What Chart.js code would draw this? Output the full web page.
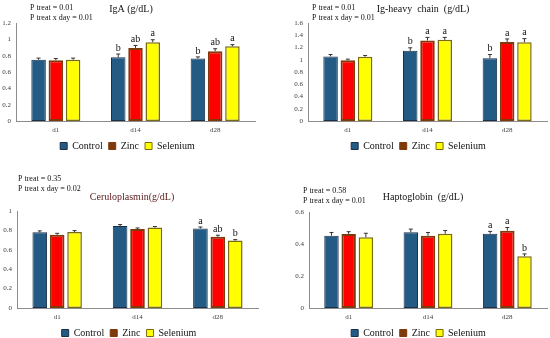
<!DOCTYPE html>
<html><head><meta charset="utf-8">
<script src="https://cdn.jsdelivr.net/npm/chart.js@4.4.1/dist/chart.umd.min.js"></script>
<style>
html,body{margin:0;padding:0;background:#fff;width:550px;height:338px;overflow:hidden;position:relative}
canvas{position:absolute}
</style></head><body>
<canvas id="c1" style="left:0;top:0"></canvas>
<canvas id="c2" style="left:290px;top:0"></canvas>
<canvas id="c3" style="left:0;top:169px"></canvas>
<canvas id="c4" style="left:290px;top:169px"></canvas>
<script>
// ---------- data ----------
const categories = ['d1', 'd14', 'd28'];
const seriesNames = ['Control', 'Zinc', 'Selenium'];

const igaTitle = 'IgA (g/dL)';
const igaPText = ['P treat = 0.01', 'P treat x day = 0.01'];
const igaTicks = [0, 0.2, 0.4, 0.6, 0.8, 1, 1.2];
const igaControl = [0.75, 0.78, 0.765];
const igaZinc = [0.745, 0.895, 0.855];
const igaSelenium = [0.75, 0.965, 0.915];
const igaControlErr = [0.02, 0.04, 0.02];
const igaZincErr = [0.02, 0.03, 0.03];
const igaSeleniumErr = [0.02, 0.03, 0.02];
const igaControlLetters = ['', 'b', 'b'];
const igaZincLetters = ['', 'ab', 'ab'];
const igaSeleniumLetters = ['', 'a', 'a'];

const ighTitle = 'Ig-heavy  chain  (g/dL)';
const ighPText = ['P treat = 0.01', 'P treat x day = 0.01'];
const ighTicks = [0, 0.2, 0.4, 0.6, 0.8, 1, 1.2, 1.4, 1.6];
const ighControl = [1.055, 1.145, 1.025];
const ighZinc = [0.99, 1.315, 1.29];
const ighSelenium = [1.05, 1.325, 1.285];
const ighControlErr = [0.03, 0.05, 0.06];
const ighZincErr = [0.02, 0.05, 0.05];
const ighSeleniumErr = [0.02, 0.04, 0.06];
const ighControlLetters = ['', 'b', 'b'];
const ighZincLetters = ['', 'a', 'a'];
const ighSeleniumLetters = ['', 'a', 'a'];

const cerTitle = 'Ceruloplasmin(g/dL)';
const cerPText = ['P treat = 0.35', 'P treat x day = 0.02'];
const cerTicks = [0, 0.2, 0.4, 0.6, 0.8, 1];
const cerControl = [0.78, 0.845, 0.82];
const cerZinc = [0.755, 0.815, 0.735];
const cerSelenium = [0.783, 0.83, 0.695];
const cerControlErr = [0.015, 0.015, 0.015];
const cerZincErr = [0.015, 0.01, 0.015];
const cerSeleniumErr = [0.015, 0.01, 0.01];
const cerControlLetters = ['', '', 'a'];
const cerZincLetters = ['', '', 'ab'];
const cerSeleniumLetters = ['', '', 'b'];

const hapTitle = 'Haptoglobin  (g/dL)';
const hapPText = ['P treat = 0.58', 'P treat x day = 0.01'];
const hapTicks = [0, 0.2, 0.4, 0.6];
const hapControl = [0.452, 0.473, 0.464];
const hapZinc = [0.462, 0.452, 0.483];
const hapSelenium = [0.442, 0.464, 0.323];
const hapControlErr = [0.02, 0.02, 0.015];
const hapZincErr = [0.015, 0.02, 0.02];
const hapSeleniumErr = [0.025, 0.02, 0.015];
const hapControlLetters = ['', '', 'a'];
const hapZincLetters = ['', '', 'a'];
const hapSeleniumLetters = ['', '', 'b'];

// ---------- styles ----------
const FAMILY = '"Liberation Serif", "Times New Roman", serif';
Chart.defaults.font.family = FAMILY;
Chart.defaults.animation = false;
const fills = ['#235b85', '#ff0000', '#ffff00'];
const borders = ['#1b2f47', '#7f3a0c', '#7a6a10'];
const borderWidths = [1, 2, 1.5];
const legendFills = ['#235b85', '#7f3a0c', '#ffff00'];

const annotate = {
  id: 'annotate',
  afterDatasetsDraw(chart, args, opts) {
    const ctx = chart.ctx, y = chart.scales.y;
    ctx.save();
    chart.data.datasets.forEach((ds, i) => {
      const meta = chart.getDatasetMeta(i);
      meta.data.forEach((bar, j) => {
        const v = ds.data[j], e = ds.errors[j];
        const yTop = y.getPixelForValue(v + e);
        const yBar = y.getPixelForValue(v);
        ctx.strokeStyle = '#333';
        ctx.lineWidth = 1;
        ctx.beginPath();
        ctx.moveTo(bar.x, yBar); ctx.lineTo(bar.x, yTop);
        ctx.moveTo(bar.x - 2, yTop); ctx.lineTo(bar.x + 2, yTop);
        ctx.stroke();
        const L = ds.letters[j];
        if (L) {
          ctx.fillStyle = '#111';
          ctx.font = '10px ' + FAMILY;
          ctx.textAlign = 'center';
          ctx.textBaseline = 'bottom';
          ctx.fillText(L, bar.x, yTop - 1);
        }
      });
    });
    // texts
    ctx.textBaseline = 'middle';
    ctx.fillStyle = '#111';
    ctx.font = '8px ' + FAMILY;
    ctx.textAlign = 'left';
    opts.pText.forEach((t, k) => ctx.fillText(t, opts.pX, opts.pY + k * 9.5));
    ctx.font = '10px ' + FAMILY;
    ctx.textAlign = 'center';
    ctx.fillStyle = opts.titleColor;
    ctx.fillText(opts.title, opts.titleX, opts.titleY);
    ctx.restore();
  }
};

function makePanel(id, w, h, pad, yWidth, ticks, vals, errs, letters, text) {
  const cv = document.getElementById(id);
  cv.width = w; cv.height = h;
  cv.style.width = w + 'px'; cv.style.height = h + 'px';
  return new Chart(cv, {
    type: 'bar',
    data: {
      labels: categories,
      datasets: seriesNames.map((n, i) => ({
        label: n,
        data: vals[i],
        errors: errs[i],
        letters: letters[i],
        backgroundColor: fills[i],
        borderColor: borders[i],
        borderWidth: borderWidths[i],
        borderSkipped: false,
        categoryPercentage: 0.65,
        barPercentage: 0.84
      }))
    },
    options: {
      responsive: false,
      devicePixelRatio: 1,
      layout: { padding: pad },
      scales: {
        x: {
          grid: { display: false, drawTicks: false },
          border: { display: true, color: '#8c8c8c', width: 1 },
          ticks: { color: '#404040', font: { size: 7, family: FAMILY }, padding: 5 },
          afterFit: s => { s.height = 14; }
        },
        y: {
          min: ticks[0], max: ticks[ticks.length - 1],
          afterBuildTicks: s => { s.ticks = ticks.map(v => ({ value: v })); },
          grid: { display: false, drawTicks: false },
          border: { display: true, color: '#8c8c8c', width: 1 },
          ticks: { color: '#404040', font: { size: 7, family: FAMILY }, padding: 5,
                   autoSkip: false, callback: v => String(v) },
          afterFit: s => { s.width = yWidth; }
        }
      },
      plugins: {
        legend: {
          position: 'bottom',
          labels: {
            boxWidth: 7, boxHeight: 7, padding: 6,
            color: '#111',
            font: { size: 10, family: FAMILY },
            generateLabels: chart => chart.data.datasets.map((d, i) => ({
              text: d.label, fillStyle: legendFills[i], strokeStyle: borders[i],
              lineWidth: 1, datasetIndex: i, hidden: false, fontColor: '#111'
            }))
          }
        },
        tooltip: { enabled: false },
        annotate: text
      }
    },
    plugins: [annotate]
  });
}

makePanel('c1', 275, 165, { top: 23, right: 20, left: 0, bottom: 4 }, 16, igaTicks,
  [igaControl, igaZinc, igaSelenium], [igaControlErr, igaZincErr, igaSeleniumErr],
  [igaControlLetters, igaZincLetters, igaSeleniumLetters],
  { title: igaTitle, titleX: 131, titleY: 9, titleColor: '#111', pText: igaPText, pX: 30, pY: 8 });

makePanel('c2', 260, 165, { top: 23, right: 3, left: 0, bottom: 4 }, 18, ighTicks,
  [ighControl, ighZinc, ighSelenium], [ighControlErr, ighZincErr, ighSeleniumErr],
  [ighControlLetters, ighZincLetters, ighSeleniumLetters],
  { title: ighTitle, titleX: 133, titleY: 9, titleColor: '#111', pText: ighPText, pX: 22, pY: 8 });

makePanel('c3', 275, 181, { top: 42, right: 17, left: 0, bottom: 2 }, 17, cerTicks,
  [cerControl, cerZinc, cerSelenium], [cerControlErr, cerZincErr, cerSeleniumErr],
  [cerControlLetters, cerZincLetters, cerSeleniumLetters],
  { title: cerTitle, titleX: 132, titleY: 28, titleColor: '#5a1a1a', pText: cerPText, pX: 18, pY: 10 });

makePanel('c4', 260, 181, { top: 43, right: 3, left: 0, bottom: 2 }, 19, hapTicks,
  [hapControl, hapZinc, hapSelenium], [hapControlErr, hapZincErr, hapSeleniumErr],
  [hapControlLetters, hapZincLetters, hapSeleniumLetters],
  { title: hapTitle, titleX: 133, titleY: 28, titleColor: '#111', pText: hapPText, pX: 13, pY: 22 });
</script>
</body></html>
